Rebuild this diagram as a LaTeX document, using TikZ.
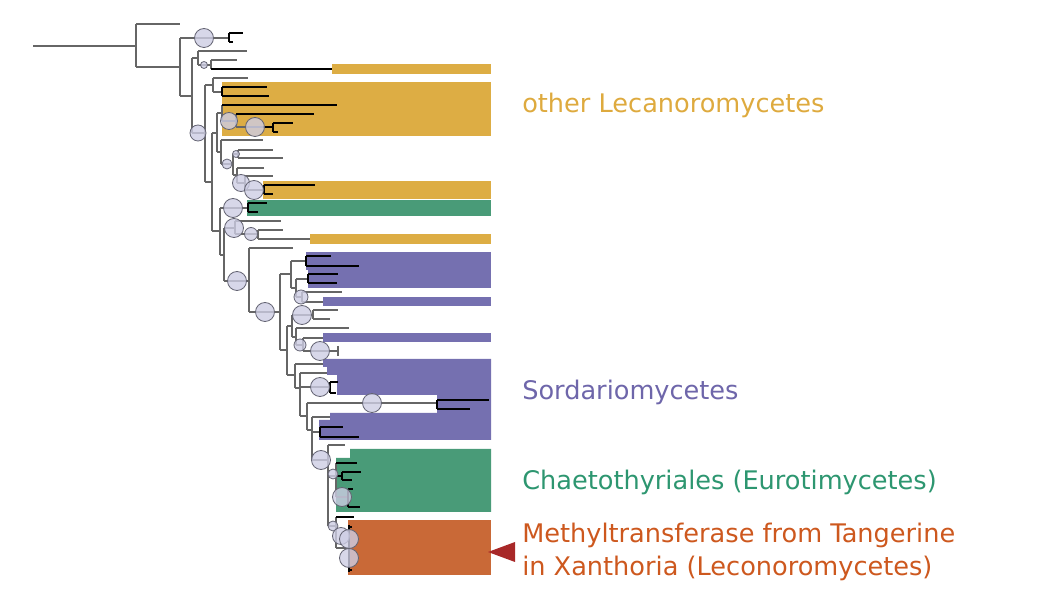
\documentclass[tikz,border=0pt]{standalone}
\usepackage{fontspec}
\setmainfont{DejaVu Sans}
\usetikzlibrary{positioning}
\definecolor{LecaYellow}{RGB}{221,173,68}
\definecolor{SordPurple}{RGB}{117,112,176}
\definecolor{ChaeGreen}{RGB}{73,155,120}
\definecolor{XanOrange}{RGB}{201,105,55}
\definecolor{LecaText}{RGB}{222,170,62}
\definecolor{SordText}{RGB}{110,102,170}
\definecolor{ChaeText}{RGB}{45,150,112}
\definecolor{XanText}{RGB}{205,88,30}
\definecolor{PointerRed}{RGB}{168,40,40}
\definecolor{NodeFill}{RGB}{205,205,228}
\definecolor{NodeLine}{RGB}{100,100,115}

\begin{document}
\begin{tikzpicture}[
  x=0.75pt, y=-0.75pt,
  br/.style={draw=black!60, line width=0.85pt},
  tipk/.style={draw=black, line width=0.85pt},
  bs/.style={draw=NodeLine, fill=NodeFill, fill opacity=0.8, line width=0.6pt},
  clade/.style={font=\fontsize{19.2}{24.75}\selectfont, anchor=base west, inner sep=0pt, align=left}
]
  \useasboundingbox (0,0) rectangle (1040,609);

  % clade boxes
  \fill[LecaYellow] (332,64) rectangle (491,74);
  \fill[LecaYellow] (222,82) rectangle (491,136);
  \fill[LecaYellow] (263,181) rectangle (491,199);
  \fill[ChaeGreen] (247,200) rectangle (491,216);
  \fill[LecaYellow] (310,234) rectangle (491,244);
  \fill[SordPurple] (306,252) rectangle (491,270);
  \fill[SordPurple] (308,270) rectangle (491,288);
  \fill[SordPurple] (323,297) rectangle (491,306);
  \fill[SordPurple] (323,333) rectangle (491,342);
  \fill[SordPurple] (323,359) -- (491,359) -- (491,440) -- (319,440) -- (319,420)
    -- (330,420) -- (330,413) -- (437,413) -- (437,395) -- (337,395) -- (337,375)
    -- (327,375) -- (327,367) -- (323,367) -- cycle;
  \fill[ChaeGreen] (350,449) -- (491,449) -- (491,512) -- (336,512) -- (336,458)
    -- (350,458) -- cycle;
  \fill[XanOrange] (348,520) rectangle (491,575);

  % backbone
  \draw[br] (33,46) -- (136,46) (136,24) -- (136,67) (136,24) -- (180,24) (136,67) -- (180,67);
  \draw[br] (180,38) -- (180,96) (180,38) -- (229,38) (180,96) -- (192,96);
  \draw[tipk] (229,33) -- (229,42) (229,33) -- (243,33) (229,42) -- (233,42);
  \draw[br] (192,58) -- (192,133) (192,58) -- (198,58) (198,51) -- (198,65) (198,51) -- (247,51)
    (198,65) -- (211,65) (211,60) -- (211,69) (211,60) -- (237,60);
  \draw[tipk] (211,69) -- (332,69);
  \draw[br] (192,133) -- (205,133) (205,85) -- (205,182) (205,85) -- (213,85) (213,78) -- (213,92)
    (213,78) -- (248,78) (213,92) -- (222,92);
  \draw[tipk] (222,87) -- (222,96) (222,87) -- (267,87) (222,96) -- (269,96);

  % upper Lecanoromycetes
  \draw[br] (205,182) -- (212,182) (212,133) -- (212,231) (212,133) -- (217,133) (217,113) -- (217,152)
    (217,113) -- (222,113) (222,105) -- (222,121) (222,121) -- (236,121) (236,114) -- (236,127)
    (236,127) -- (263,127);
  \draw[tipk] (222,105) -- (337,105) (236,114) -- (314,114) (273,123) -- (273,132)
    (263,127) -- (273,127) (273,123) -- (293,123) (273,132) -- (278,132);
  \draw[br] (217,152) -- (221,152) (221,140) -- (221,164) (221,140) -- (263,140) (221,164) -- (233,164)
    (233,154) -- (233,175) (233,154) -- (238,154) (238,150) -- (238,158) (238,150) -- (273,150)
    (238,158) -- (283,158) (233,175) -- (237,175) (237,168) -- (237,183) (237,168) -- (264,168)
    (237,183) -- (245,183) (245,176) -- (245,190) (245,176) -- (273,176) (245,190) -- (264,190);
  \draw[tipk] (264,185) -- (264,194) (264,185) -- (315,185) (264,194) -- (273,194);

  % green and yellow mixed part
  \draw[br] (212,231) -- (220,231) (220,208) -- (220,255) (220,208) -- (248,208) (220,255) -- (224,255)
    (224,228) -- (224,281) (224,228) -- (235,228) (235,221) -- (235,234) (235,221) -- (281,221)
    (235,234) -- (258,234) (258,230) -- (258,239) (258,230) -- (283,230) (258,239) -- (310,239);
  \draw[tipk] (248,203) -- (248,212) (248,203) -- (267,203) (248,212) -- (258,212);

  % Sordariomycetes
  \draw[br] (224,281) -- (249,281) (249,248) -- (249,312) (249,248) -- (293,248) (249,312) -- (280,312)
    (280,274) -- (280,350) (280,274) -- (291,274) (291,261) -- (291,288) (291,261) -- (306,261)
    (291,288) -- (296,288) (296,279) -- (296,297) (296,279) -- (308,279) (296,297) -- (302,297)
    (302,292) -- (302,302) (302,292) -- (342,292) (302,302) -- (323,302);
  \draw[tipk] (306,256) -- (306,266) (306,256) -- (331,256) (306,266) -- (359,266)
    (308,274) -- (308,283) (308,274) -- (338,274) (308,283) -- (337,283);
  \draw[br] (280,350) -- (287,350) (287,326) -- (287,375) (287,326) -- (292,326) (292,315) -- (292,337)
    (292,315) -- (313,315) (313,310) -- (313,319) (313,310) -- (338,310) (313,319) -- (330,319)
    (292,337) -- (296,337) (296,328) -- (296,345) (296,328) -- (349,328) (296,345) -- (303,345)
    (303,338) -- (303,351) (303,338) -- (323,338) (303,351) -- (338,351) (338,346) -- (338,356);
  \draw[br] (287,375) -- (295,375) (295,364) -- (295,388) (295,364) -- (323,364) (295,388) -- (300,388)
    (300,373) -- (300,416) (300,373) -- (327,373) (300,387) -- (330,387) (300,416) -- (307,416)
    (307,403) -- (307,430) (307,403) -- (437,403) (307,430) -- (312,430) (312,417) -- (312,460)
    (312,417) -- (330,417) (312,432) -- (320,432);
  \draw[tipk] (330,382) -- (330,393) (330,382) -- (338,382) (330,393) -- (336,393)
    (437,400) -- (437,409) (437,400) -- (489,400) (437,409) -- (470,409)
    (320,427) -- (320,437) (320,427) -- (343,427) (320,437) -- (359,437);

  % Chaetothyriales and Xanthoria
  \draw[br] (312,460) -- (328,460) (328,445) -- (328,526) (328,445) -- (345,445) (328,476) -- (336,476)
    (336,463) -- (336,497) (336,497) -- (348,497) (328,526) -- (336,526) (336,517) -- (336,548)
    (336,548) -- (349,548);
  \draw[tipk] (336,463) -- (357,463) (336,476) -- (342,476) (342,472) -- (342,480) (342,472) -- (361,472)
    (342,480) -- (352,480) (348,489) -- (348,507) (348,489) -- (353,489) (348,507) -- (360,507)
    (336,517) -- (354,517) (349,525) -- (349,572) (349,527) -- (352,527) (349,570) -- (352,570);

  % bootstrap support circles
  \foreach \cx/\cy/\r in {204/38/9.5, 204/65/3.5, 198/133/8, 229/121/8.5, 255/127/9.5, 236/154/3.5,
      227/164/5, 241/183/8.5, 254/190/9.5, 233/208/9.5, 234/228/9.5, 251/234/6.5, 237/281/9.5, 265/312/9.5,
      301/297/7, 302/315/9.5, 300/345/6, 320/351/9.5, 320/387/9.5, 372/403/9.5, 321/460/9.5, 333/474/5,
      342/497/9.5, 333/526/5, 341/536/8.5, 349/539/9.5, 349/558/9.5}
    \draw[bs] (\cx,\cy) circle[radius=\r];

  % labels
  \node[clade, text=LecaText] (leca) at (522,112.5) {other Lecanoromycetes};
  \node[clade, text=SordText] (sord) at (522,400) {Sordariomycetes};
  \node[clade, text=ChaeText] (chae) at (522,489.5) {Chaetothyriales (Eurotimycetes)};
  \node[clade, text=XanText, anchor=north west] (xan) at (522,522.5)
    {Methyltransferase from Tangerine\\in Xanthoria (Leconoromycetes)};
  \fill[PointerRed] (515,542) -- (488,552) -- (515,562) -- cycle;
\end{tikzpicture}
\end{document}
